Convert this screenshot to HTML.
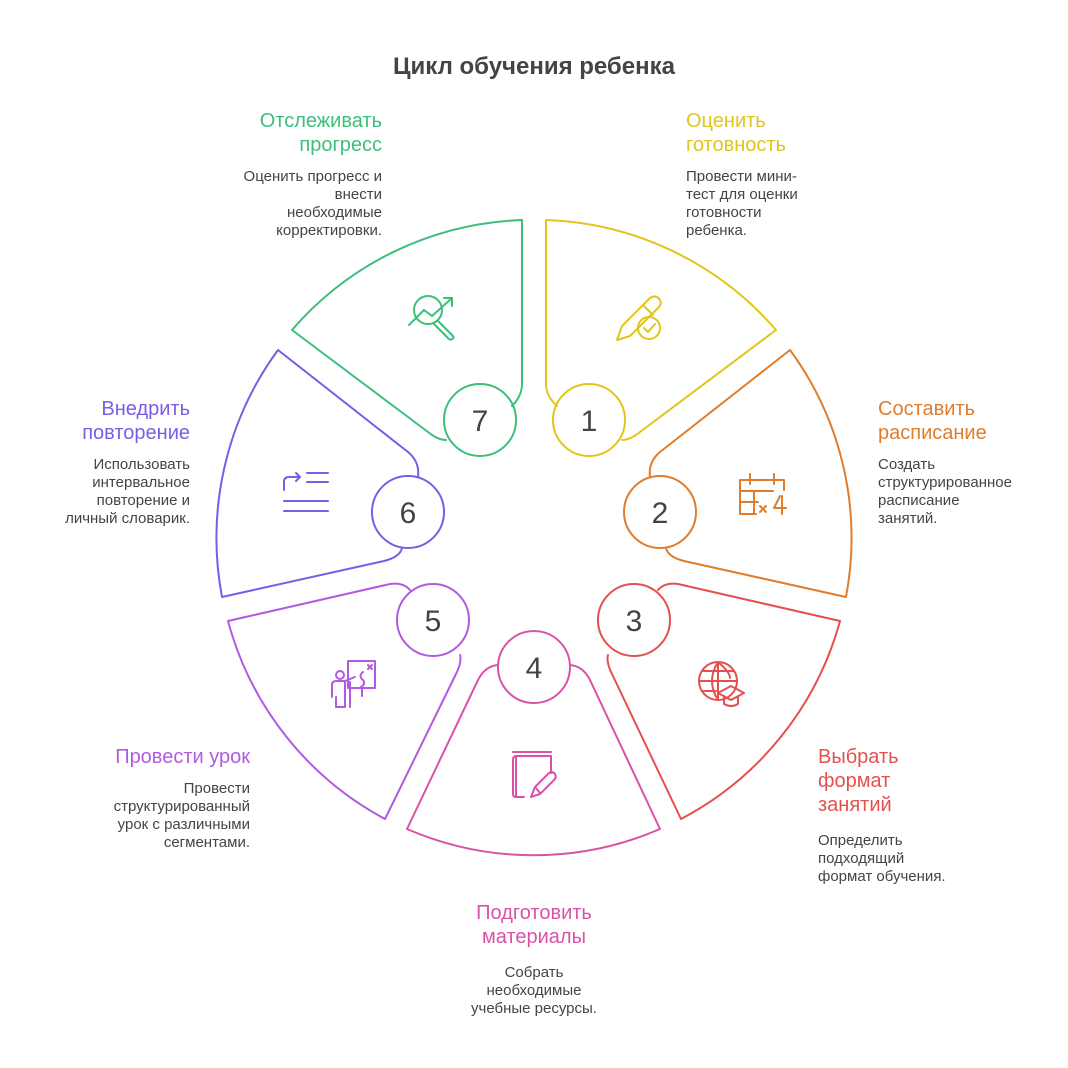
<!DOCTYPE html>
<html><head><meta charset="utf-8"><style>
html,body{margin:0;padding:0;background:#fff}
svg{display:block}
text{font-family:"Liberation Sans",sans-serif}
.t{font-size:20px}
.d{font-size:15px;fill:#444}
.n{font-size:30px;fill:#444;text-anchor:middle}
</style></head><body>
<svg width="1068" height="1068" viewBox="0 0 1068 1068" xmlns="http://www.w3.org/2000/svg">
<text x="534" y="74" text-anchor="middle" style="font-size:24px;font-weight:bold;fill:#444">Цикл обучения ребенка</text>

<g fill="none" stroke-width="2" stroke-linecap="round" stroke-linejoin="round">
<path d="M557,406 Q546,396 546,384 L546,220 A318,318 0 0 1 776,330 L640,432 Q630,440 622,440" stroke="#e2c51c"/>
<circle cx="589" cy="420" r="36" stroke="#e2c51c"/>
<path d="M512,406 Q522,396 522,384 L522,220 A318,318 0 0 0 292,330 L428,432 Q438,440 446,440" stroke="#3dbf7c"/>
<circle cx="480" cy="420" r="36" stroke="#3dbf7c"/>
<path d="M650,477 Q648,462 660,452 L790,350 A318,318 0 0 1 846,597 L684,561 Q668,557 666,548" stroke="#e07d2c"/>
<circle cx="660" cy="512" r="36" stroke="#e07d2c"/>
<path d="M418,477 Q420,462 408,452 L278,350 A318,318 0 0 0 222,597 L384,561 Q400,557 402,548" stroke="#7b5ce6"/>
<circle cx="408" cy="512" r="36" stroke="#7b5ce6"/>
<path d="M658,590 Q665,582 678,584 L840,621 A318,318 0 0 1 681,819 L612,674 Q606,662 608,655" stroke="#e3504f"/>
<circle cx="634" cy="620" r="36" stroke="#e3504f"/>
<path d="M410,590 Q403,582 390,584 L228,621 A318,318 0 0 0 385,819 L456,674 Q462,662 460,655" stroke="#b15ae2"/>
<circle cx="433" cy="620" r="36" stroke="#b15ae2"/>
<path d="M498,665 Q485,666 478,680 L407,829 A318,318 0 0 0 660,829 L590,680 Q583,666 570,665" stroke="#da52a8"/>
<circle cx="534" cy="667" r="36" stroke="#da52a8"/>
</g>

<text class="n" x="589" y="431">1</text>
<text class="n" x="660" y="523">2</text>
<text class="n" x="634" y="631">3</text>
<text class="n" x="534" y="678">4</text>
<text class="n" x="433" y="631">5</text>
<text class="n" x="408" y="523">6</text>
<text class="n" x="480" y="431">7</text>

<g fill="none" stroke-width="2" stroke-linecap="round" stroke-linejoin="round">
<g stroke="#e2c51c">
<path d="M617,340 L622,326 L650,298 Q656,294 660,300 Q662,305 658,308 L630,336 Z M643,305 L653,315"/>
<circle cx="649" cy="328" r="11"/><path d="M644,328 L648,332 L655,324"/>
</g>
<g stroke="#3dbf7c">
<circle cx="428" cy="310" r="14"/><path d="M438,321 L452,335 Q455,338 452,339 Q450,341 447,337 L434,324"/>
<path d="M409,325 L424,310 L432,316 L452,298 M444,298 L452,298 L452,306"/>
</g>
<g stroke="#e07d2c">
<path d="M740,480 L784,480 L784,490 M740,480 L740,514 L756,514 M740,491 L773,491 M740,502 L758,502 M754,491 L754,514 M750,474 L750,484 M774,474 L774,484"/>
<path d="M760,506 L766,512 M766,506 L760,512 M780,496 L774,508 L786,508 M782,496 L782,514"/>
</g>
<g stroke="#e3504f">
<circle cx="718" cy="681" r="19"/><path d="M699,681 L737,681 M718,662 Q706,681 718,700 M718,662 Q730,672 730,678 M718,662 L718,700 M702,671 L734,671 M702,691 L716,691"/>
<path d="M718,693 L731,686 L744,693 L731,700 Z M724,696 L724,704 Q731,708 738,704 L738,696"/>
</g>
<g stroke="#da52a8">
<path d="M513,752 L551,752 M516,756 L551,756 L551,773 M516,756 Q513,756 513,760 L513,794 Q513,797 516,797 L524,797 M516,756 L516,796"/>
<path d="M531,797 L535,787 L549,773 Q553,771 555,774 Q557,777 554,780 L540,794 Z M535,787 L540,793"/>
</g>
<g stroke="#b15ae2">
<rect x="348" y="661" width="27" height="27"/><path d="M362,688 L362,696 M368,665 L372,669 M372,665 L368,669 M363,672 Q358,676 363,680 Q366,684 361,687"/>
<circle cx="340" cy="675" r="4"/><path d="M332,697 L332,685 Q332,681 336,681 L345,681 L355,677 M345,681 L345,707 L336,707 L336,697 M350,682 L350,707"/>
</g>
<g stroke="#7b5ce6">
<path d="M284,490 L284,482 Q284,477 289,477 L300,477 M296,473 L300,477 L296,481"/>
<path d="M307,473 L328,473 M307,482 L328,482 M284,501 L328,501 M284,511 L328,511"/>
</g>
</g>

<g text-anchor="end">
<text class="t" fill="#3dbf7c" x="382" y="127">Отслеживать</text>
<text class="t" fill="#3dbf7c" x="382" y="151">прогресс</text>
<text class="d" x="382" y="181">Оценить прогресс и</text>
<text class="d" x="382" y="199">внести</text>
<text class="d" x="382" y="217">необходимые</text>
<text class="d" x="382" y="235">корректировки.</text>

<text class="t" fill="#7b5ce6" x="190" y="415">Внедрить</text>
<text class="t" fill="#7b5ce6" x="190" y="439">повторение</text>
<text class="d" x="190" y="469">Использовать</text>
<text class="d" x="190" y="487">интервальное</text>
<text class="d" x="190" y="505">повторение и</text>
<text class="d" x="190" y="523">личный словарик.</text>

<text class="t" fill="#b15ae2" x="250" y="763">Провести урок</text>
<text class="d" x="250" y="793">Провести</text>
<text class="d" x="250" y="811">структурированный</text>
<text class="d" x="250" y="829">урок с различными</text>
<text class="d" x="250" y="847">сегментами.</text>
</g>
<g>
<text class="t" fill="#e2c51c" x="686" y="127">Оценить</text>
<text class="t" fill="#e2c51c" x="686" y="151">готовность</text>
<text class="d" x="686" y="181">Провести мини-</text>
<text class="d" x="686" y="199">тест для оценки</text>
<text class="d" x="686" y="217">готовности</text>
<text class="d" x="686" y="235">ребенка.</text>

<text class="t" fill="#e07d2c" x="878" y="415">Составить</text>
<text class="t" fill="#e07d2c" x="878" y="439">расписание</text>
<text class="d" x="878" y="469">Создать</text>
<text class="d" x="878" y="487">структурированное</text>
<text class="d" x="878" y="505">расписание</text>
<text class="d" x="878" y="523">занятий.</text>

<text class="t" fill="#e3504f" x="818" y="763">Выбрать</text>
<text class="t" fill="#e3504f" x="818" y="787">формат</text>
<text class="t" fill="#e3504f" x="818" y="811">занятий</text>
<text class="d" x="818" y="845">Определить</text>
<text class="d" x="818" y="863">подходящий</text>
<text class="d" x="818" y="881">формат обучения.</text>
</g>
<g text-anchor="middle">
<text class="t" fill="#da52a8" x="534" y="919">Подготовить</text>
<text class="t" fill="#da52a8" x="534" y="943">материалы</text>
<text class="d" x="534" y="977">Собрать</text>
<text class="d" x="534" y="995">необходимые</text>
<text class="d" x="534" y="1013">учебные ресурсы.</text>
</g>
</svg>
</body></html>
